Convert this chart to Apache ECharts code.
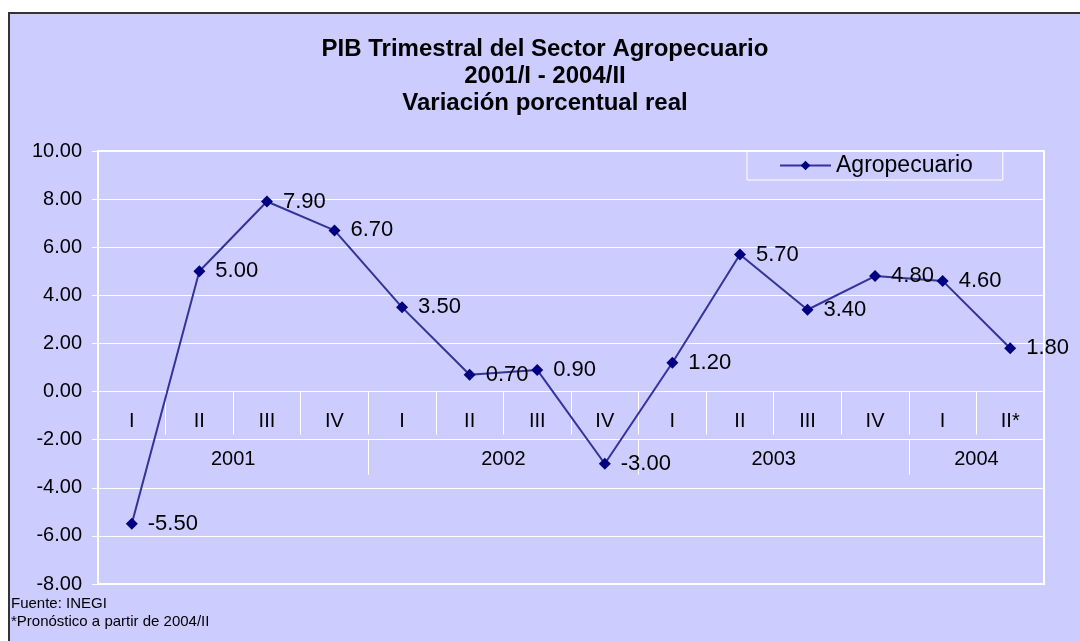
<!DOCTYPE html>
<html>
<head>
<meta charset="utf-8">
<script src="https://cdn.jsdelivr.net/npm/echarts@6/dist/echarts.min.js"></script>
<style>
  html, body { margin: 0; padding: 0; background: #ffffff; }
  #chart { width: 1080px; height: 641px; }
</style>
</head>
<body>
<div id="chart"></div>
<script>
// ---- data ----
const quarters = ['I','II','III','IV','I','II','III','IV','I','II','III','IV','I','II*'];
const years = ['2001','2002','2003','2004'];
const yearSpans = [4, 4, 4, 2];
const values = [-5.5, 5.0, 7.9, 6.7, 3.5, 0.7, 0.9, -3.0, 1.2, 5.7, 3.4, 4.8, 4.6, 1.8];
const seriesName = 'Agropecuario';
const yMin = -8, yMax = 10, yStep = 2;
const titleLines = ['PIB Trimestral del Sector Agropecuario', '2001/I - 2004/II', 'Variación porcentual real'];
const notes = ['Fuente: INEGI', '*Pronóstico a partir de 2004/II'];

// year group boundaries and centres (in category units)
const yearBounds = [];
const yearCenters = [];
let acc = 0;
yearSpans.forEach(function (s) { yearCenters.push(acc + s / 2); acc += s; yearBounds.push(acc); });

const GRID_H = 433;
// axis at value 0 and second level at value -2, measured up from the bottom of the grid
const zeroOffset = -GRID_H * (0 - yMin) / (yMax - yMin);
const yearOffset = -GRID_H * (-yStep - yMin) / (yMax - yMin);

const FONT = 'Liberation Sans, Arial, sans-serif';
const chart = echarts.init(document.getElementById('chart'));
chart.setOption({
  animation: false,
  backgroundColor: '#ffffff',
  textStyle: { fontFamily: FONT },
  graphic: [
    { type: 'rect', z: -10, silent: true,
      shape: { x: 9, y: 13, width: 1100, height: 700 },
      style: { fill: '#CCCCFF', stroke: '#333333', lineWidth: 2 } },
    { type: 'text', z: 10, x: 545, y: 36,
      style: { text: titleLines.join('\n'), textAlign: 'center', textVerticalAlign: 'top',
               font: 'bold 24px ' + FONT, lineHeight: 27, fill: '#000' } },
    { type: 'text', z: 10, x: 11, y: 595,
      style: { text: notes.join('\n'), textAlign: 'left', textVerticalAlign: 'top',
               font: '15px ' + FONT, lineHeight: 18, fill: '#000' } }
  ],
  legend: {
    left: 747, top: 151,
    padding: [3, 30, 3, 32],
    borderColor: '#ffffff', borderWidth: 1,
    itemWidth: 51, itemHeight: 12, itemGap: 5,
    textStyle: { fontSize: 23, color: '#000', fontFamily: FONT },
    data: [seriesName]
  },
  grid: {
    left: 98, top: 151, width: 946, height: GRID_H,
    show: true, borderColor: '#ffffff', borderWidth: 2, backgroundColor: 'transparent',
    containLabel: false
  },
  xAxis: [
    {
      type: 'category', data: quarters, boundaryGap: true, position: 'bottom', offset: zeroOffset,
      axisLine: { show: true, onZero: false, lineStyle: { color: '#ffffff', width: 1 } },
      axisTick: { show: true, interval: 0, length: 43, lineStyle: { color: '#ffffff', width: 1 } },
      axisLabel: { interval: 0, margin: 20, fontSize: 20, color: '#000', fontFamily: FONT },
      splitLine: { show: false }
    },
    {
      type: 'value', min: 0, max: quarters.length, position: 'bottom', offset: yearOffset,
      axisLine: { show: false, onZero: false },
      axisTick: { show: true, length: 35, customValues: yearBounds.slice(0, -1),
                  lineStyle: { color: '#ffffff', width: 1 } },
      axisLabel: { show: true, margin: 10, fontSize: 20, color: '#000', fontFamily: FONT,
                   customValues: yearCenters,
                   formatter: function (v) { const i = yearCenters.indexOf(v); return i >= 0 ? years[i] : ''; } },
      splitLine: { show: false }
    }
  ],
  yAxis: {
    type: 'value', min: yMin, max: yMax, interval: yStep,
    axisLine: { show: true, onZero: false, lineStyle: { color: '#ffffff', width: 1 } },
    axisTick: { show: true, length: 6, lineStyle: { color: '#ffffff' } },
    axisLabel: { margin: 16, fontSize: 20, color: '#000', fontFamily: FONT,
                 formatter: function (v) { return v.toFixed(2); } },
    splitLine: { show: true, lineStyle: { color: '#ffffff', width: 1 } }
  },
  series: [{
    name: seriesName, type: 'line', xAxisIndex: 0, yAxisIndex: 0,
    data: values,
    symbol: 'diamond', symbolSize: 12,
    lineStyle: { color: '#333399', width: 2 },
    itemStyle: { color: '#000080' },
    label: { show: true, position: 'right', distance: 10, fontSize: 22, color: '#000',
             fontFamily: FONT, formatter: function (p) { return p.value.toFixed(2); } }
  }]
});
</script>
</body>
</html>
